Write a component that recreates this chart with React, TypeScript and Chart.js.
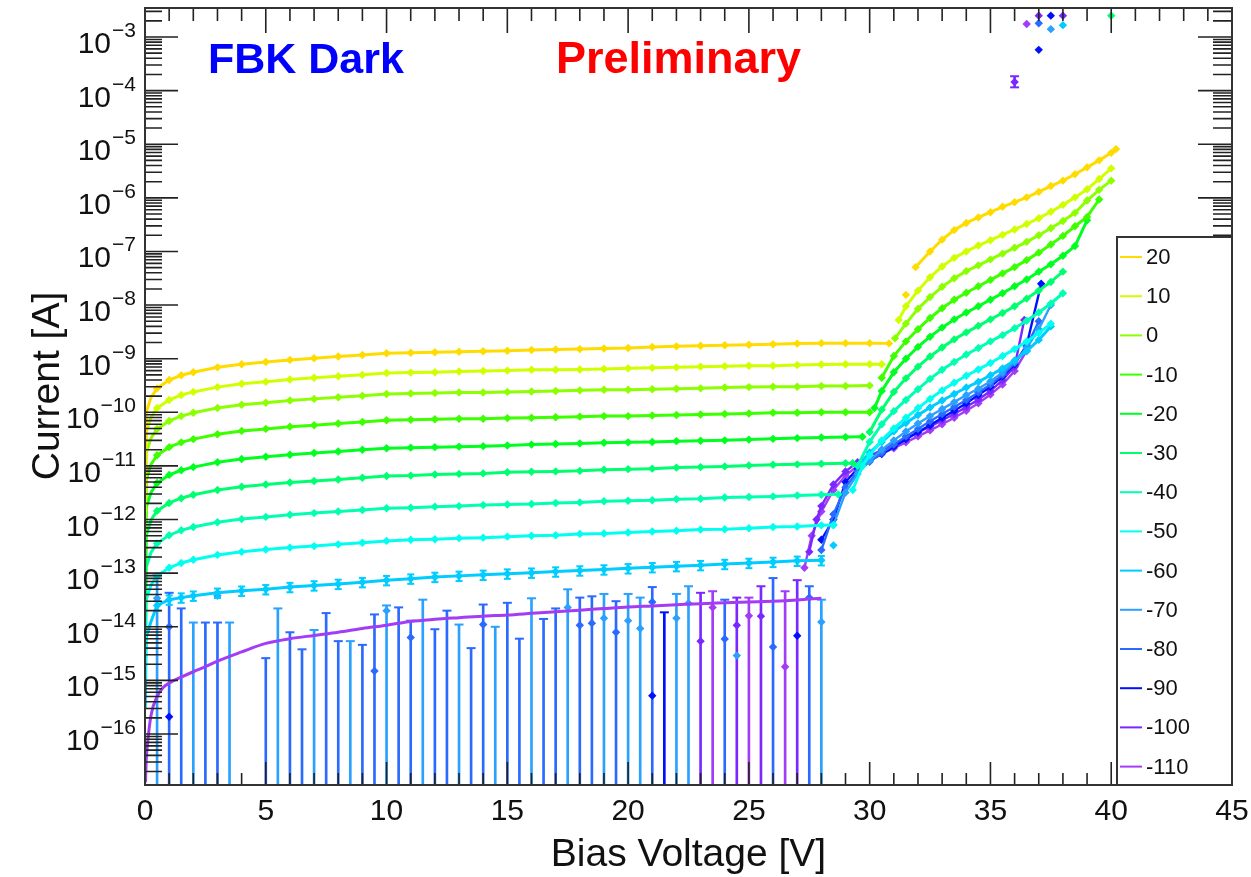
import React, { useEffect, useRef } from "react";
import { Chart, registerables } from "chart.js";

Chart.register(...registerables);

// ---------------- axes ----------------
const X_MIN = 0;
const X_MAX = 45;
const Y_MIN = 1.12e-17;
const Y_MAX = 3.47e-3;
const X_TICKS = [0, 5, 10, 15, 20, 25, 30, 35, 40, 45];
const Y_EXPONENTS = [-16, -15, -14, -13, -12, -11, -10, -9, -8, -7, -6, -5, -4, -3];
const X_TITLE = "Bias Voltage [V]";
const Y_TITLE = "Current [A]";
const TEXT_LEFT = "FBK Dark";
const TEXT_RIGHT = "Preliminary";

// ---------------- series (temperatures) ----------------
const LABELS = ["20", "10", "0", "-10", "-20", "-30", "-40", "-50", "-60", "-70", "-80", "-90", "-100", "-110"];
const COLORS = ["#ffdc00", "#d0ff00", "#8cff00", "#3cff00", "#00ff20", "#00ff70", "#00ffb0", "#00fff0", "#00ccff", "#2aa0ff", "#2a6aff", "#0010ff", "#7a28ff", "#a23cf5"];

// common voltage grid below breakdown
const VF = [0.01, 0.05, 0.25, 0.5, 1, 1.5, 2, 3, 4, 5, 6, 7, 8, 9, 10, 11, 12, 13, 14, 15, 16, 17, 18, 19, 20, 21, 22, 23, 24, 25, 26, 27, 28];

const I_FLAT_20 = [3.2e-12, 1.0e-10, 1.9e-10, 2.8e-10, 4.0e-10, 4.9e-10, 5.6e-10, 6.9e-10, 7.9e-10, 8.7e-10, 9.5e-10, 1.02e-9, 1.10e-9, 1.17e-9, 1.26e-9, 1.29e-9, 1.32e-9, 1.35e-9, 1.38e-9, 1.41e-9, 1.45e-9, 1.48e-9, 1.51e-9, 1.55e-9, 1.58e-9, 1.66e-9, 1.70e-9, 1.74e-9, 1.78e-9, 1.82e-9, 1.86e-9, 1.91e-9, 1.95e-9];
const I_FLAT_10 = [1.35e-12, 4.3e-11, 8.1e-11, 1.2e-10, 1.7e-10, 2.1e-10, 2.4e-10, 2.95e-10, 3.4e-10, 3.7e-10, 4.1e-10, 4.4e-10, 4.7e-10, 5.0e-10, 5.4e-10, 5.5e-10, 5.6e-10, 5.75e-10, 5.9e-10, 6.0e-10, 6.2e-10, 6.2e-10, 6.3e-10, 6.45e-10, 6.6e-10, 6.75e-10, 6.9e-10, 7.1e-10, 7.25e-10, 7.4e-10, 7.4e-10, 7.6e-10, 7.8e-10];
const I_FLAT_0 = [5.5e-13, 1.74e-11, 3.3e-11, 4.9e-11, 6.9e-11, 8.5e-11, 9.8e-11, 1.2e-10, 1.38e-10, 1.51e-10, 1.66e-10, 1.78e-10, 1.91e-10, 2.04e-10, 2.19e-10, 2.24e-10, 2.29e-10, 2.34e-10, 2.34e-10, 2.4e-10, 2.45e-10, 2.5e-10, 2.57e-10, 2.63e-10, 2.63e-10, 2.7e-10, 2.75e-10, 2.8e-10, 2.9e-10, 2.95e-10, 3.0e-10, 3.0e-10, 3.1e-10];
const I_FLAT_M10 = [1.8e-13, 5.6e-12, 1.07e-11, 1.58e-11, 2.24e-11, 2.75e-11, 3.16e-11, 3.9e-11, 4.5e-11, 4.9e-11, 5.4e-11, 5.75e-11, 6.2e-11, 6.6e-11, 7.1e-11, 7.25e-11, 7.4e-11, 7.6e-11, 7.6e-11, 7.8e-11, 7.9e-11, 8.1e-11, 8.3e-11, 8.5e-11, 8.5e-11, 8.7e-11, 8.9e-11, 9.1e-11, 9.3e-11, 9.5e-11, 9.8e-11, 9.8e-11, 1.0e-10];
const I_FLAT_M20 = [5.4e-14, 1.7e-12, 3.2e-12, 4.8e-12, 6.8e-12, 8.3e-12, 9.5e-12, 1.17e-11, 1.35e-11, 1.48e-11, 1.62e-11, 1.74e-11, 1.86e-11, 2.0e-11, 2.14e-11, 2.19e-11, 2.24e-11, 2.29e-11, 2.34e-11, 2.4e-11, 2.5e-11, 2.57e-11, 2.63e-11, 2.7e-11, 2.75e-11, 2.8e-11, 2.9e-11, 2.95e-11, 3.0e-11, 3.1e-11, 3.2e-11, 3.3e-11, 3.4e-11];
const I_FLAT_M30 = [1.6e-14, 5.1e-13, 9.8e-13, 1.45e-12, 2.04e-12, 2.5e-12, 2.9e-12, 3.55e-12, 4.1e-12, 4.5e-12, 4.9e-12, 5.25e-12, 5.6e-12, 6.0e-12, 6.5e-12, 6.6e-12, 6.9e-12, 7.1e-12, 7.25e-12, 7.6e-12, 7.8e-12, 7.9e-12, 8.1e-12, 8.5e-12, 8.7e-12, 8.9e-12, 9.3e-12, 9.5e-12, 9.8e-12, 1.02e-11, 1.05e-11, 1.07e-11, 1.1e-11];
const I_FLAT_M40 = [4.1e-15, 1.29e-13, 2.45e-13, 3.6e-13, 5.1e-13, 6.3e-13, 7.25e-13, 8.9e-13, 1.02e-12, 1.12e-12, 1.23e-12, 1.32e-12, 1.41e-12, 1.51e-12, 1.62e-12, 1.66e-12, 1.74e-12, 1.78e-12, 1.86e-12, 1.91e-12, 1.95e-12, 2.04e-12, 2.09e-12, 2.19e-12, 2.24e-12, 2.29e-12, 2.4e-12, 2.45e-12, 2.57e-12, 2.63e-12, 2.7e-12, 2.8e-12, 2.9e-12];
const I_FLAT_M50 = [1.0e-15, 3.2e-14, 6.0e-14, 8.9e-14, 1.26e-13, 1.55e-13, 1.78e-13, 2.19e-13, 2.5e-13, 2.75e-13, 3.0e-13, 3.2e-13, 3.45e-13, 3.7e-13, 4.0e-13, 4.2e-13, 4.3e-13, 4.5e-13, 4.6e-13, 4.8e-13, 5.0e-13, 5.1e-13, 5.4e-13, 5.5e-13, 5.75e-13, 6.0e-13, 6.2e-13, 6.5e-13, 6.6e-13, 6.9e-13, 7.25e-13, 7.4e-13, 7.8e-13];
const I_FLAT_M60 = [3.0e-16, 6.3e-15, 1.26e-14, 2.5e-14, 3.2e-14, 3.5e-14, 3.8e-14, 4.3e-14, 4.7e-14, 5.0e-14, 5.5e-14, 5.9e-14, 6.3e-14, 6.8e-14, 7.4e-14, 7.9e-14, 8.5e-14, 8.9e-14, 9.3e-14, 9.8e-14, 1.02e-13, 1.07e-13, 1.12e-13, 1.17e-13, 1.23e-13, 1.29e-13, 1.35e-13, 1.41e-13, 1.48e-13, 1.55e-13, 1.62e-13, 1.70e-13, 1.74e-13];

// end of plateau + post-breakdown (null = gap in the curve)
const V_HI_20 = [29, 30, 30.8, 31.2, 31.5, 31.7, 31.9, 32.5, 33, 33.5, 34, 34.5, 35, 35.5, 36, 36.5, 37, 37.5, 38, 38.5, 39, 39.5, 40, 40.2];
const I_HI_20 = [1.95e-9, 1.95e-9, 1.93e-9, null, 1.55e-8, null, 5.1e-8, 1.0e-7, 1.66e-7, 2.5e-7, 3.4e-7, 4.3e-7, 5.4e-7, 6.8e-7, 8.3e-7, 1.02e-6, 1.29e-6, 1.66e-6, 2.09e-6, 2.75e-6, 3.7e-6, 5.0e-6, 6.9e-6, 8.1e-6];
const V_HI_10 = [29, 30, 30.5, 30.9, 31.2, 31.5, 32, 32.5, 33, 33.5, 34, 34.5, 35, 35.5, 36, 36.5, 37, 37.5, 38, 38.5, 39, 39.5, 40];
const I_HI_10 = [7.9e-10, 7.9e-10, 7.9e-10, null, 5.25e-9, 9.5e-9, 1.86e-8, 3.3e-8, 5.25e-8, 7.6e-8, 1.0e-7, 1.29e-7, 1.62e-7, 2.04e-7, 2.57e-7, 3.24e-7, 4.17e-7, 5.5e-7, 7.4e-7, 1.02e-6, 1.45e-6, 2.24e-6, 3.55e-6];
const V_HI_0 = [29, 30, 30.6, 31.05, 31.5, 32, 32.5, 33, 33.5, 34, 34.5, 35, 35.5, 36, 36.5, 37, 37.5, 38, 38.5, 39, 39.5, 40];
const I_HI_0 = [3.1e-10, 3.15e-10, null, 2.4e-9, 4.5e-9, 8.5e-9, 1.41e-8, 2.19e-8, 3.16e-8, 4.3e-8, 5.5e-8, 7.1e-8, 9.1e-8, 1.17e-7, 1.51e-7, 2.0e-7, 2.7e-7, 3.7e-7, 5.25e-7, 8.9e-7, 1.41e-6, 2.09e-6];
const V_HI_M10 = [29, 30, 30.25, 30.5, 31, 31.5, 32, 32.5, 33, 33.5, 34, 34.5, 35, 35.5, 36, 36.5, 37, 37.5, 38, 38.5, 39, 39.5];
const I_HI_M10 = [1.0e-10, 1.0e-10, null, 4.4e-10, 1.12e-9, 2.1e-9, 3.55e-9, 5.75e-9, 8.7e-9, 1.26e-8, 1.7e-8, 2.24e-8, 2.95e-8, 3.9e-8, 5.1e-8, 6.9e-8, 9.5e-8, 1.35e-7, 1.95e-7, 2.95e-7, 4.4e-7, 9.3e-7];
const V_HI_M20 = [29, 29.7, 29.95, 30.2, 30.5, 31, 31.5, 32, 32.5, 33, 33.5, 34, 34.5, 35, 35.5, 36, 36.5, 37, 37.5, 38, 38.5, 39];
const I_HI_M20 = [3.45e-11, 3.5e-11, null, 1.2e-10, 2.5e-10, 5.6e-10, 1.0e-9, 1.66e-9, 2.57e-9, 3.8e-9, 5.4e-9, 7.25e-9, 9.5e-9, 1.26e-8, 1.66e-8, 2.24e-8, 3.0e-8, 4.2e-8, 5.75e-8, 8.3e-8, 1.26e-7, 3.8e-7];
const V_HI_M30 = [29, 29.3, 29.65, 30, 30.5, 31, 31.5, 32, 32.5, 33, 33.5, 34, 34.5, 35, 35.5, 36, 36.5, 37, 37.5, 38];
const I_HI_M30 = [1.12e-11, 1.12e-11, null, 4.3e-11, 1.12e-10, 2.4e-10, 4.3e-10, 7.1e-10, 1.1e-9, 1.62e-9, 2.29e-9, 3.1e-9, 4.1e-9, 5.4e-9, 7.1e-9, 9.5e-9, 1.32e-8, 1.86e-8, 2.7e-8, 4.2e-8];
const V_HI_M40 = [28.7, 29.1, 29.5, 30, 30.5, 31, 31.5, 32, 32.5, 33, 33.5, 34, 34.5, 35, 35.5, 36, 36.5, 37, 37.5, 38];
const I_HI_M40 = [2.95e-12, null, 1.0e-11, 2.8e-11, 6.0e-11, 1.05e-10, 1.7e-10, 2.7e-10, 4.2e-10, 6.2e-10, 8.7e-10, 1.2e-9, 1.58e-9, 2.1e-9, 2.75e-9, 3.7e-9, 5.1e-9, 7.25e-9, 1.07e-8, 1.66e-8];
const V_HI_M50 = [28.5, 28.9, 29.3, 29.7, 30, 30.5, 31, 31.5, 32, 32.5, 33, 33.5, 34, 34.5, 35, 35.5, 36, 36.5, 37, 37.5];
const I_HI_M50 = [7.9e-13, null, 3.55e-12, 1.0e-11, 1.58e-11, 3.0e-11, 5.0e-11, 7.9e-11, 1.2e-10, 1.78e-10, 2.57e-10, 3.55e-10, 4.8e-10, 6.3e-10, 8.3e-10, 1.12e-9, 1.51e-9, 2.09e-9, 3.0e-9, 4.5e-9];
const V_HI_M60 = [28.2, 28.5, 29, 29.5, 30, 30.5, 31, 31.5, 32, 32.5, 33, 33.5, 34, 34.5, 35, 35.5, 36, 36.5, 37, 37.5];
const I_HI_M60 = [null, 3.3e-13, null, 1.0e-11, 1.78e-11, 2.8e-11, 4.4e-11, 6.3e-11, 8.9e-11, 1.23e-10, 1.66e-10, 2.19e-10, 2.9e-10, 3.7e-10, 4.9e-10, 6.6e-10, 9.3e-10, 1.38e-9, 2.24e-9, 4.0e-9];
const ERR60_REL = 0.2;

// cold series: post-breakdown curves
const V_BD_70 = [28.5, 29, 29.5, 30, 30.5, 31, 31.5, 32, 32.5, 33, 33.5, 34, 34.5, 35, 35.5, 36, 36.5, 37, 37.5];
const I_BD_70 = [7.9e-13, 3.2e-12, 7.1e-12, 1.26e-11, 2.0e-11, 3.0e-11, 4.4e-11, 6.2e-11, 8.5e-11, 1.15e-10, 1.55e-10, 2.1e-10, 2.75e-10, 3.8e-10, 5.5e-10, 8.7e-10, 1.58e-9, 3.55e-9, 1.0e-8];
const V_BD_80 = [28, 28.5, 29, 29.5, 30, 30.5, 31, 31.5, 32, 32.5, 33, 33.5, 34, 34.5, 35, 35.5, 36, 36.5, 37];
const I_BD_80 = [2.7e-13, 1.26e-12, 4.0e-12, 7.9e-12, 1.2e-11, 1.74e-11, 2.5e-11, 3.55e-11, 4.9e-11, 6.8e-11, 9.3e-11, 1.26e-10, 1.7e-10, 2.34e-10, 3.3e-10, 5.0e-10, 8.3e-10, 1.66e-9, 5.0e-9];
const V_BD_90 = [28, 28.5, 29, 29.5, 30, 30.5, 31, 31.5, 32, 32.5, 33, 33.5, 34, 34.5, 35, 35.5, 36, 36.5, 37.1];
const I_BD_90 = [4.2e-13, 1.0e-12, 5.0e-12, 8.9e-12, 1.26e-11, 1.66e-11, 2.29e-11, 3.16e-11, 4.3e-11, 5.75e-11, 7.9e-11, 1.07e-10, 1.48e-10, 2.1e-10, 3.0e-10, 4.7e-10, 7.9e-10, 1.78e-9, 2.5e-8];
const V_BD_100 = [27.5, 27.8, 28, 28.5, 29, 29.5, 30, 30.5, 31, 31.5, 32, 32.5, 33, 33.5, 34, 34.5, 35, 35.5, 36, 36.4];
const I_BD_100 = [2.5e-13, 1.0e-12, 1.78e-12, 4.5e-12, 7.9e-12, 1.17e-11, 1.51e-11, 2.0e-11, 2.5e-11, 3.2e-11, 4.2e-11, 5.4e-11, 7.1e-11, 9.3e-11, 1.26e-10, 1.74e-10, 2.5e-10, 4.0e-10, 7.1e-10, 5.25e-9];
const V_BD_110 = [27.3, 27.6, 28, 28.5, 29, 29.5, 30, 30.5, 31, 31.5, 32, 32.5, 33, 33.5, 34, 34.5, 35, 35.5, 36, 36.5];
const I_BD_110 = [1.26e-13, 5.0e-13, 1.41e-12, 3.55e-12, 6.6e-12, 1.0e-11, 1.32e-11, 1.7e-11, 2.14e-11, 2.75e-11, 3.55e-11, 4.6e-11, 6.0e-11, 7.9e-11, 1.07e-10, 1.48e-10, 2.14e-10, 3.3e-10, 5.9e-10, 1.41e-9];

// -110 fit below breakdown
const V_FIT_110 = [0.02, 0.05, 0.1, 0.25, 0.5, 0.75, 1, 1.5, 2, 2.5, 3, 4, 5, 6, 7, 8, 9, 10, 11, 12, 13, 14, 15, 16, 17, 18, 19, 20, 21, 22, 23, 24, 25, 26, 27, 28];
const I_FIT_110 = [1.26e-17, 3.2e-17, 6.3e-17, 2.24e-16, 5.0e-16, 7.4e-16, 8.9e-16, 1.15e-15, 1.45e-15, 1.8e-15, 2.29e-15, 3.4e-15, 4.9e-15, 6.0e-15, 6.9e-15, 7.9e-15, 9.3e-15, 1.07e-14, 1.26e-14, 1.38e-14, 1.48e-14, 1.58e-14, 1.66e-14, 1.78e-14, 1.91e-14, 2.04e-14, 2.19e-14, 2.34e-14, 2.45e-14, 2.57e-14, 2.7e-14, 2.8e-14, 2.9e-14, 3.0e-14, 3.16e-14, 3.4e-14];

// cold series: noisy points with error bars whose lower end falls below the axis
const EB_FLOOR = 1e-18;
const EB_V_70 = [0.5, 2, 3.5, 5.5, 7, 8.5, 10, 11.5, 13, 14.5, 16, 17.5, 19, 20, 20.5, 22, 22.5, 28];
const EB_TOP_70 = [9.1e-14, 1.2e-14, 1.2e-14, 2.2e-14, 8.7e-15, 5.4e-15, 2.5e-14, 3.2e-14, 1.1e-14, 1.0e-14, 3.4e-14, 5.0e-14, 4.1e-14, 4.1e-14, 3.5e-14, 4.1e-14, 5.7e-14, 3.2e-14];
const MK_V_70 = [0.5, 3, 10, 17.5, 19, 20, 20.5, 22, 22.5, 24.5, 28];
const MK_I_70 = [3.4e-14, 3.8e-14, 2.0e-14, 2.3e-14, 1.45e-14, 1.3e-14, 9.3e-15, 1.45e-14, 2.75e-14, 2.9e-15, 1.23e-14];
const EB_V_80 = [1, 1.5, 2.5, 3, 5, 6, 6.5, 7.5, 8, 9, 9.5, 10.5, 11, 12, 12.5, 13.5, 14, 15, 15.5, 16.5, 17, 18, 18.5, 19.5, 21, 24, 26, 27.5];
const EB_TOP_80 = [4.3e-14, 2.2e-14, 1.2e-14, 1.2e-14, 2.6e-15, 7.9e-15, 3.8e-15, 1.8e-14, 5.4e-15, 4.6e-15, 1.7e-14, 2.3e-14, 1.3e-14, 9.0e-15, 2.0e-14, 4.0e-15, 2.6e-14, 2.8e-14, 6.0e-15, 1.4e-14, 2.2e-14, 3.5e-14, 3.7e-14, 3.0e-14, 5.5e-14, 3.2e-14, 8.1e-14, 5.7e-14];
const MK_V_80 = [1, 9.5, 11, 14, 18, 18.5, 19.5, 21, 24, 26, 27.5];
const MK_I_80 = [1.0e-14, 1.5e-15, 6.3e-15, 1.1e-14, 1.07e-14, 1.17e-14, 7.9e-15, 2.9e-14, 5.9e-15, 4.2e-15, 3.5e-14];
const EB_V_90 = [21.5];
const EB_TOP_90 = [1.86e-14];
const MK_V_90 = [1, 21, 27];
const MK_I_90 = [2.1e-16, 5.2e-16, 6.8e-15];
const EB_V_100 = [23, 24.5, 25.5, 27];
const EB_TOP_100 = [4.3e-14, 3.5e-14, 5.7e-14, 7.4e-14];
const MK_V_100 = [23, 24.5, 25.5];
const MK_I_100 = [5.4e-15, 1.07e-14, 1.58e-14];
const EB_V_110 = [23.5, 25, 26.5];
const EB_TOP_110 = [4.6e-14, 3.5e-14, 4.6e-14];
const MK_V_110 = [23.5, 25, 26.5];
const MK_I_110 = [2.3e-14, 1.6e-14, 1.8e-15];

// points at current compliance (top of the plot)
const COMP_V = [36.0, 36.5, 37.0, 37.0, 37.0, 37.5, 37.5, 38.0, 38.0, 40.0];
const COMP_I = [1.45e-4, 1.74e-3, 2.5e-3, 1.8e-3, 5.75e-4, 2.5e-3, 1.4e-3, 2.5e-3, 1.66e-3, 2.5e-3];
const COMP_S = ["-100", "-110", "-100", "-80", "-90", "-90", "-70", "-100", "-60", "-30"];
const COMP_ERR_V = [36.0];
const COMP_ERR_LO = [1.15e-4];
const COMP_ERR_HI = [1.85e-4];
const COMP_ERR_S = ["-100"];

// ---------------- helpers ----------------
const FONT = '"Liberation Sans", Arial, Helvetica, sans-serif';
const colorOf = (lab: string) => COLORS[LABELS.indexOf(lab)];
const pts = (V: number[], I: (number | null)[]) => V.map((x, i) => ({ x, y: I[i] }));

const UPPER: [string, number[], number[], (number | null)[]][] = [
  ["20", I_FLAT_20, V_HI_20, I_HI_20],
  ["10", I_FLAT_10, V_HI_10, I_HI_10],
  ["0", I_FLAT_0, V_HI_0, I_HI_0],
  ["-10", I_FLAT_M10, V_HI_M10, I_HI_M10],
  ["-20", I_FLAT_M20, V_HI_M20, I_HI_M20],
  ["-30", I_FLAT_M30, V_HI_M30, I_HI_M30],
  ["-40", I_FLAT_M40, V_HI_M40, I_HI_M40],
  ["-50", I_FLAT_M50, V_HI_M50, I_HI_M50],
  ["-60", I_FLAT_M60, V_HI_M60, I_HI_M60],
];
const LOWER_BD: [string, number[], number[]][] = [
  ["-70", V_BD_70, I_BD_70],
  ["-80", V_BD_80, I_BD_80],
  ["-90", V_BD_90, I_BD_90],
  ["-100", V_BD_100, I_BD_100],
  ["-110", V_BD_110, I_BD_110],
];
const EB_GROUPS: [string, number[], number[], number[], number[]][] = [
  ["-70", EB_V_70, EB_TOP_70, MK_V_70, MK_I_70],
  ["-80", EB_V_80, EB_TOP_80, MK_V_80, MK_I_80],
  ["-90", EB_V_90, EB_TOP_90, MK_V_90, MK_I_90],
  ["-100", EB_V_100, EB_TOP_100, MK_V_100, MK_I_100],
  ["-110", EB_V_110, EB_TOP_110, MK_V_110, MK_I_110],
];

const MARK_R = 4.2;
const radiusSkipZero = (c: any) => (c.raw && c.raw.x < 0.3 ? 0 : MARK_R);

function buildDatasets() {
  const ds: any[] = [];
  const errBar = (data: any[], c: string, order: number) => ({
    type: "bar", data, backgroundColor: c, borderWidth: 0, barThickness: 2, grouped: false, order,
  });
  const caps = (data: any[], c: string, order: number, r = 4.5) => ({
    type: "line", showLine: false, data, pointStyle: "line", pointRadius: r,
    pointBorderColor: c, pointBorderWidth: 2, order,
  });
  const marks = (data: any[], c: string, order: number, bg?: any) => ({
    type: "line", showLine: false, data, pointStyle: "rectRot", pointRadius: MARK_R,
    pointBackgroundColor: bg || c, pointBorderWidth: 0, order,
  });

  for (const [lab, V, TOP, MV, MI] of EB_GROUPS) {
    const c = colorOf(lab);
    ds.push(errBar(V.map((x, i) => ({ x, y: [EB_FLOOR, TOP[i]] })), c, 8));
    ds.push(caps(V.map((x, i) => ({ x, y: TOP[i] })), c, 7));
    ds.push(marks(pts(MV, MI), c, 6));
  }

  // -60 small error bars
  const c60 = colorOf("-60");
  const v60 = VF.map((x, i) => ({ x, v: I_FLAT_M60[i] })).filter((p) => p.x >= 0.3);
  ds.push(errBar(v60.map((p) => ({ x: p.x, y: [p.v * (1 - ERR60_REL), p.v * (1 + ERR60_REL)] })), c60, 5));
  ds.push(caps(v60.map((p) => ({ x: p.x, y: p.v * (1 + ERR60_REL) })), c60, 5, 3.5));
  ds.push(caps(v60.map((p) => ({ x: p.x, y: p.v * (1 - ERR60_REL) })), c60, 5, 3.5));

  // -110 fit
  ds.push({
    type: "line", label: "-110 fit", data: pts(V_FIT_110, I_FIT_110), borderColor: colorOf("-110"),
    borderWidth: 3, pointRadius: 0, tension: 0.3, cubicInterpolationMode: "monotone", order: 3,
  });

  for (const [lab, V, I] of LOWER_BD) {
    const c = colorOf(lab);
    ds.push({
      type: "line", label: lab, data: pts(V, I), borderColor: c, backgroundColor: c, borderWidth: 2.4,
      pointStyle: "rectRot", pointRadius: MARK_R, pointBackgroundColor: c, pointBorderWidth: 0, tension: 0, order: 2,
    });
  }

  for (const [lab, FLAT, VH, IH] of UPPER) {
    const c = colorOf(lab);
    ds.push({
      type: "line", label: lab, data: [...pts(VF, FLAT), ...pts(VH, IH)], borderColor: c, backgroundColor: c,
      borderWidth: 3, pointStyle: "rectRot", pointRadius: radiusSkipZero, pointBackgroundColor: c,
      pointBorderWidth: 0, tension: 0, order: 1,
    });
  }

  // compliance points
  ds.push(errBar(COMP_ERR_V.map((x, i) => ({ x, y: [COMP_ERR_LO[i], COMP_ERR_HI[i]] })), colorOf(COMP_ERR_S[0]), 1));
  ds.push(caps(COMP_ERR_V.map((x, i) => ({ x, y: COMP_ERR_HI[i] })), colorOf(COMP_ERR_S[0]), 1));
  ds.push(caps(COMP_ERR_V.map((x, i) => ({ x, y: COMP_ERR_LO[i] })), colorOf(COMP_ERR_S[0]), 1));
  ds.push(marks(pts(COMP_V, COMP_I), "#000", 0, COMP_S.map(colorOf)));
  return ds;
}

// ROOT-like frame, inward ticks, labels, titles and legend
const rootFrame = {
  id: "rootFrame",
  afterDraw(chart: any) {
    const { ctx, chartArea: a } = chart;
    const xs = chart.scales.x;
    const ys = chart.scales.y;
    ctx.save();
    // ticks
    ctx.strokeStyle = "#222";
    ctx.lineWidth = 1.6;
    ctx.beginPath();
    for (let v = X_MIN; v <= X_MAX; v++) {
      const px = xs.getPixelForValue(v);
      const major = v % 5 === 0;
      ctx.moveTo(px, a.bottom);
      ctx.lineTo(px, a.bottom - (major ? 23 : 12));
      ctx.moveTo(px, a.top);
      ctx.lineTo(px, a.top + (major ? 25 : 13));
    }
    for (let e = -18; e <= -2; e++) {
      for (let k = 1; k <= 9; k++) {
        const v = k * Math.pow(10, e);
        if (v < Y_MIN || v > Y_MAX) continue;
        const py = ys.getPixelForValue(v);
        const major = k === 1;
        ctx.moveTo(a.left, py);
        ctx.lineTo(a.left + (major ? 33 : 17), py);
        ctx.moveTo(a.right, py);
        ctx.lineTo(a.right - (major ? 34 : 19), py);
      }
    }
    ctx.stroke();
    // frame
    ctx.lineWidth = 2;
    ctx.strokeStyle = "#333";
    ctx.strokeRect(a.left, a.top, a.right - a.left, a.bottom - a.top);

    // x tick labels
    ctx.fillStyle = "#111";
    ctx.textBaseline = "alphabetic";
    ctx.font = `30px ${FONT}`;
    ctx.textAlign = "center";
    for (const t of X_TICKS) ctx.fillText(String(t), xs.getPixelForValue(t), a.bottom + 35);

    // y tick labels: 10 with raised exponent
    const rightEdge = a.left - 9;
    for (const e of Y_EXPONENTS) {
      const py = ys.getPixelForValue(Math.pow(10, e));
      const exp = "\u2212" + String(-e);
      ctx.textAlign = "right";
      ctx.font = `21px ${FONT}`;
      const w = ctx.measureText(exp).width;
      ctx.fillText(exp, rightEdge, py);
      ctx.font = `30px ${FONT}`;
      ctx.fillText("10", rightEdge - w - 1, py + 16);
    }

    // axis titles
    ctx.font = `39px ${FONT}`;
    ctx.textAlign = "center";
    ctx.fillText(X_TITLE, (a.left + a.right) / 2, 866);
    ctx.save();
    ctx.translate(59, 386);
    ctx.rotate(-Math.PI / 2);
    ctx.fillText(Y_TITLE, 0, 0);
    ctx.restore();

    // annotations
    ctx.textAlign = "left";
    ctx.font = `bold 43px ${FONT}`;
    ctx.fillStyle = "#0000ff";
    ctx.fillText(TEXT_LEFT, 208, 73);
    ctx.font = `bold 45px ${FONT}`;
    ctx.fillStyle = "#ff0000";
    ctx.fillText(TEXT_RIGHT, 556, 73);

    // legend
    const lx = 1117;
    const ly = 237;
    ctx.fillStyle = "#fff";
    ctx.fillRect(lx, ly, a.right - lx, a.bottom - ly);
    ctx.strokeStyle = "#333";
    ctx.lineWidth = 2;
    ctx.strokeRect(lx, ly, a.right - lx, a.bottom - ly);
    ctx.font = `22px ${FONT}`;
    ctx.textBaseline = "middle";
    LABELS.forEach((lab, i) => {
      const y = 257 + i * 39.2;
      ctx.strokeStyle = COLORS[i];
      ctx.lineWidth = 2;
      ctx.beginPath();
      ctx.moveTo(lx + 3, y);
      ctx.lineTo(lx + 25, y);
      ctx.stroke();
      ctx.fillStyle = "#111";
      ctx.fillText(lab, lx + 29, y + 1);
    });
    ctx.restore();
  },
};

export default function App() {
  const ref = useRef<HTMLCanvasElement | null>(null);
  useEffect(() => {
    if (!ref.current) return;
    const chart = new Chart(ref.current, {
      type: "line",
      data: { datasets: buildDatasets() },
      options: {
        responsive: false,
        devicePixelRatio: 1,
        animation: false,
        events: [],
        layout: { padding: { left: 145, right: 19, top: 8, bottom: 92 } },
        scales: {
          x: { type: "linear", display: false, min: X_MIN, max: X_MAX, offset: false, grid: { offset: false } },
          y: { type: "logarithmic", display: false, min: Y_MIN, max: Y_MAX },
        },
        plugins: { legend: { display: false }, tooltip: { enabled: false } },
      } as any,
      plugins: [rootFrame],
    } as any);
    return () => chart.destroy();
  }, []);
  return (
    <div style={{ position: "fixed", left: 0, top: 0, width: 1251, height: 877, background: "#fff" }}>
      <canvas ref={ref} width={1251} height={877} style={{ display: "block", width: 1251, height: 877 }} />
    </div>
  );
}
